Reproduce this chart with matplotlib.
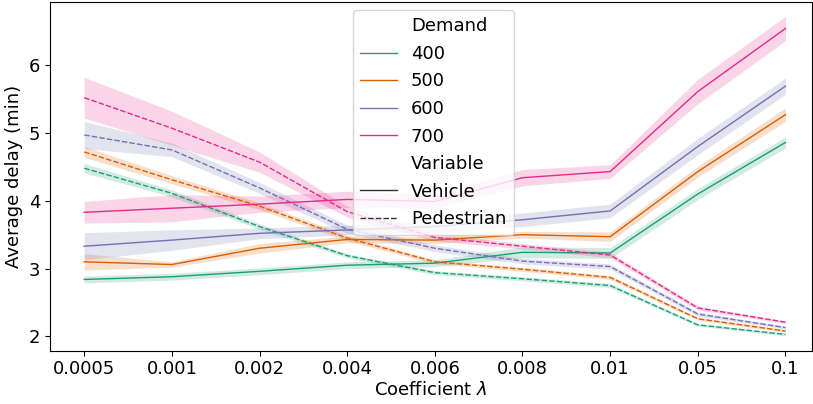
import matplotlib
matplotlib.use("Agg")
import matplotlib.pyplot as plt
from matplotlib.lines import Line2D
import numpy as np

coefs = ['0.0005', '0.001', '0.002', '0.004', '0.006', '0.008', '0.01', '0.05', '0.1']
demands = ['400', '500', '600', '700']
colors = ['#1b9e77', '#d95f02', '#7570b3', '#e7298a']

# mean delay (min) per demand, vehicles
veh_mean = {
    '400': [2.84, 2.88, 2.96, 3.05, 3.08, 3.24, 3.23, 4.10, 4.86],
    '500': [3.10, 3.06, 3.30, 3.43, 3.42, 3.50, 3.47, 4.43, 5.27],
    '600': [3.33, 3.42, 3.52, 3.57, 3.62, 3.72, 3.85, 4.80, 5.69],
    '700': [3.83, 3.89, 3.95, 4.02, 3.99, 4.34, 4.43, 5.61, 6.54],
}
veh_ci = {
    '400': [0.05, 0.05, 0.05, 0.05, 0.05, 0.08, 0.08, 0.08, 0.08],
    '500': [0.12, 0.04, 0.07, 0.05, 0.05, 0.05, 0.07, 0.08, 0.10],
    '600': [0.20, 0.15, 0.08, 0.07, 0.08, 0.10, 0.10, 0.12, 0.12],
    '700': [0.16, 0.20, 0.12, 0.12, 0.10, 0.12, 0.10, 0.18, 0.18],
}
# mean delay (min) per demand, pedestrians
ped_mean = {
    '400': [4.48, 4.11, 3.62, 3.19, 2.94, 2.85, 2.75, 2.17, 2.03],
    '500': [4.72, 4.31, 3.92, 3.45, 3.10, 2.99, 2.87, 2.26, 2.08],
    '600': [4.97, 4.75, 4.19, 3.58, 3.30, 3.11, 3.03, 2.33, 2.13],
    '700': [5.52, 5.07, 4.57, 3.84, 3.46, 3.33, 3.20, 2.42, 2.21],
}
ped_ci = {
    '400': [0.07, 0.05, 0.04, 0.03, 0.03, 0.03, 0.03, 0.02, 0.02],
    '500': [0.08, 0.06, 0.05, 0.04, 0.03, 0.03, 0.03, 0.02, 0.02],
    '600': [0.20, 0.10, 0.08, 0.06, 0.05, 0.04, 0.04, 0.03, 0.02],
    '700': [0.30, 0.25, 0.15, 0.08, 0.05, 0.04, 0.04, 0.03, 0.02],
}

plt.rcParams['font.family'] = 'DejaVu Sans'
plt.rcParams['font.size'] = 13

fig = plt.figure(figsize=(8.13, 4.04), dpi=100)
ax = fig.add_axes([0.0615, 0.132, 0.937, 0.863])

lw = 1.0
x = np.arange(len(coefs))
for d, c in zip(demands, colors):
    m = np.array(veh_mean[d])
    e = np.array(veh_ci[d])
    ax.fill_between(x, m - e, m + e, color=c, alpha=0.2, linewidth=0)
    ax.plot(x, m, color=c, linewidth=lw)
    m = np.array(ped_mean[d])
    e = np.array(ped_ci[d])
    ax.fill_between(x, m - e, m + e, color=c, alpha=0.2, linewidth=0)
    ax.plot(x, m, color=c, linewidth=lw, dashes=(4, 1.5))

ax.set_xticks(x)
ax.set_xticklabels(coefs)
ax.set_yticks([2, 3, 4, 5, 6])
ax.set_xlim(-0.39, 8.3)
ax.set_ylim(1.79, 6.93)
ax.set_xlabel(r'Coefficient $\lambda$', labelpad=2)
ax.set_ylabel('Average delay (min)')

blank = Line2D([], [], linestyle='none')
handles = [blank] + [Line2D([], [], color=c, linewidth=lw) for c in colors]
handles += [blank, Line2D([], [], color='#333333', linewidth=lw),
            Line2D([], [], color='#333333', linewidth=lw, dashes=(4, 1.5))]
labels = ['Demand'] + demands + ['Variable', 'Vehicle', 'Pedestrian']
ax.legend(handles, labels, loc='upper left', bbox_to_anchor=(0.398, 0.977),
          borderaxespad=0, handlelength=2.0, labelspacing=0.53, borderpad=0.4)

fig.savefig('out.png', dpi=100)
